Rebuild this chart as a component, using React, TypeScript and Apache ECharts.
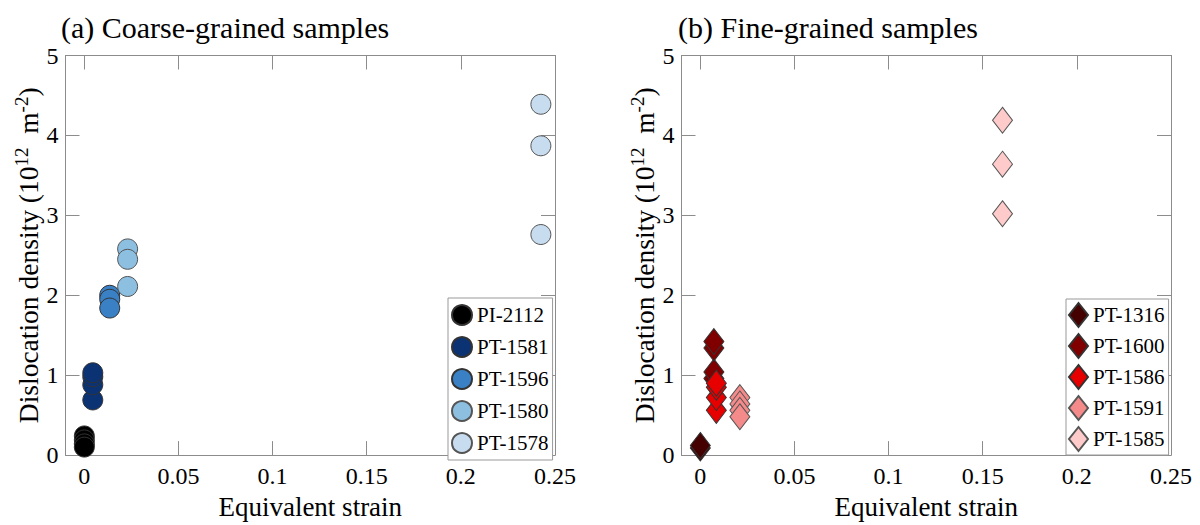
import React, { useEffect, useRef } from "react";
import * as echarts from "echarts";

const FONT = "Liberation Serif";

const xTicks = [0, 0.05, 0.1, 0.15, 0.2, 0.25];
const yTicks = [0, 1, 2, 3, 4, 5];

// (a) Coarse-grained samples
const coarseNames = ["PI-2112", "PT-1581", "PT-1596", "PT-1580", "PT-1578"];
const coarseColors = ["#000000", "#0b3273", "#3a80c4", "#8cbfe0", "#c8dcf0"];
const coarseStrain = [0, 0.0045, 0.0135, 0.023, 0.2425];
const pi2112 = [0.24, 0.19, 0.14, 0.1];
const pt1581 = [0.69, 0.88, 0.98, 1.03];
const pt1596 = [2.0, 1.95, 1.84];
const pt1580 = [2.58, 2.45, 2.11];
const pt1578 = [4.39, 3.87, 2.76];
const coarseValues = [pi2112, pt1581, pt1596, pt1580, pt1578];

// (b) Fine-grained samples
const fineNames = ["PT-1316", "PT-1600", "PT-1586", "PT-1591", "PT-1585"];
const fineColors = ["#450000", "#800000", "#e60000", "#f58a8a", "#ffcaca"];
const fineStrain = [0, 0.0072, 0.0085, 0.021, 0.1605];
const pt1316 = [0.09, 0.12];
const pt1600 = [0.96, 1.04, 1.34, 1.42];
const pt1586 = [0.56, 0.72, 0.85, 0.9];
const pt1591 = [0.72, 0.64, 0.56, 0.48];
const pt1585 = [4.19, 3.64, 3.02];
const fineValues = [pt1316, pt1600, pt1586, pt1591, pt1585];

const AXIS_COLOR = "#8c8c8c";

function makeX(gridIndex: number, top: boolean) {
  return {
    type: "value",
    gridIndex,
    min: -0.01,
    max: 0.25,
    position: top ? "top" : "bottom",
    axisLine: { show: true, onZero: false, lineStyle: { color: AXIS_COLOR, width: 1 } },
    axisTick: { show: true, inside: true, length: 14, customValues: xTicks, lineStyle: { color: AXIS_COLOR } },
    axisLabel: top
      ? { show: false }
      : { show: true, customValues: xTicks, color: "#000", fontSize: 24, fontFamily: FONT, margin: 9, formatter: (v: number) => String(v) },
    splitLine: { show: false },
    name: top ? "" : "Equivalent strain",
    nameLocation: "middle",
    nameGap: 37,
    nameTextStyle: { color: "#000", fontSize: 27, fontFamily: FONT },
  };
}

function makeY(gridIndex: number, right: boolean) {
  return {
    type: "value",
    gridIndex,
    min: 0,
    max: 5,
    interval: 1,
    position: right ? "right" : "left",
    axisLine: { show: true, onZero: false, lineStyle: { color: AXIS_COLOR, width: 1 } },
    axisTick: { show: true, inside: true, length: 14, lineStyle: { color: AXIS_COLOR } },
    axisLabel: right
      ? { show: false }
      : { show: true, color: "#000", fontSize: 24, fontFamily: FONT, margin: 7, formatter: (v: number) => (yTicks.includes(v) ? String(v) : "") },
    splitLine: { show: false },
    name: right ? "" : "Dislocation density (10{sup|12}  m{sup|-2})",
    nameLocation: "middle",
    nameRotate: 90,
    nameGap: 20,
    nameTextStyle: {
      color: "#000",
      fontSize: 27.5,
      fontFamily: FONT,
      rich: {
        sup: { fontSize: 19, fontFamily: FONT, color: "#000", padding: [0, 0, 15, 0] },
      },
    },
  };
}

function buildSeries(names: string[], colors: string[], strain: number[], values: number[][], axisIdx: number, diamond: boolean) {
  return names.map((name, i) => ({
    type: "scatter",
    name,
    xAxisIndex: axisIdx,
    yAxisIndex: axisIdx,
    symbol: diamond ? "diamond" : "circle",
    symbolSize: diamond ? [20, 26] : 20,
    data: values[i].map((v) => [strain[i], v]),
    itemStyle: { color: colors[i], borderColor: i >= 3 ? "#555" : "#333", borderWidth: 1, opacity: 1 },
    emphasis: { disabled: true },
    z: 2 + i,
  }));
}

export default function App() {
  const ref = useRef<HTMLDivElement>(null);
  useEffect(() => {
    if (!ref.current) return;
    const chart = echarts.init(ref.current, undefined, { renderer: "svg" });
    const legendBase = {
      orient: "vertical",
      backgroundColor: "#fff",
      borderColor: "#999",
      borderWidth: 1,
      borderRadius: 0,
      textStyle: { color: "#000", fontSize: 21, fontFamily: FONT },
      selectedMode: false,
    };
    const titleStyle = { color: "#000", fontSize: 30, fontWeight: "normal", fontFamily: FONT };
    chart.setOption({
      animation: false,
      backgroundColor: "#fff",
      title: [
        { text: "(a) Coarse-grained samples", left: 61, top: 12, padding: 0, textStyle: titleStyle },
        { text: "(b) Fine-grained samples", left: 678, top: 12, padding: 0, textStyle: titleStyle },
      ],
      grid: [
        { left: 65.5, top: 55.5, width: 489.5, height: 400 },
        { left: 681.5, top: 55.5, width: 489.5, height: 400 },
      ],
      xAxis: [makeX(0, false), makeX(1, false), makeX(0, true), makeX(1, true)],
      yAxis: [makeY(0, false), makeY(1, false), makeY(0, true), makeY(1, true)],
      legend: [
        { ...legendBase, data: coarseNames, left: 448, top: 298, itemWidth: 20, itemHeight: 20, itemGap: 10, padding: [6, 4, 6, 3] },
        { ...legendBase, data: fineNames, left: 1066, top: 299, itemWidth: 19, itemHeight: 24, itemGap: 5, padding: [3, 4, 3, 2] },
      ],
      series: [
        ...buildSeries(coarseNames, coarseColors, coarseStrain, coarseValues, 0, false),
        ...buildSeries(fineNames, fineColors, fineStrain, fineValues, 1, true),
      ],
    });
    return () => chart.dispose();
  }, []);
  return <div ref={ref} style={{ position: "fixed", left: 0, top: 0, width: 1200, height: 525 }} />;
}
